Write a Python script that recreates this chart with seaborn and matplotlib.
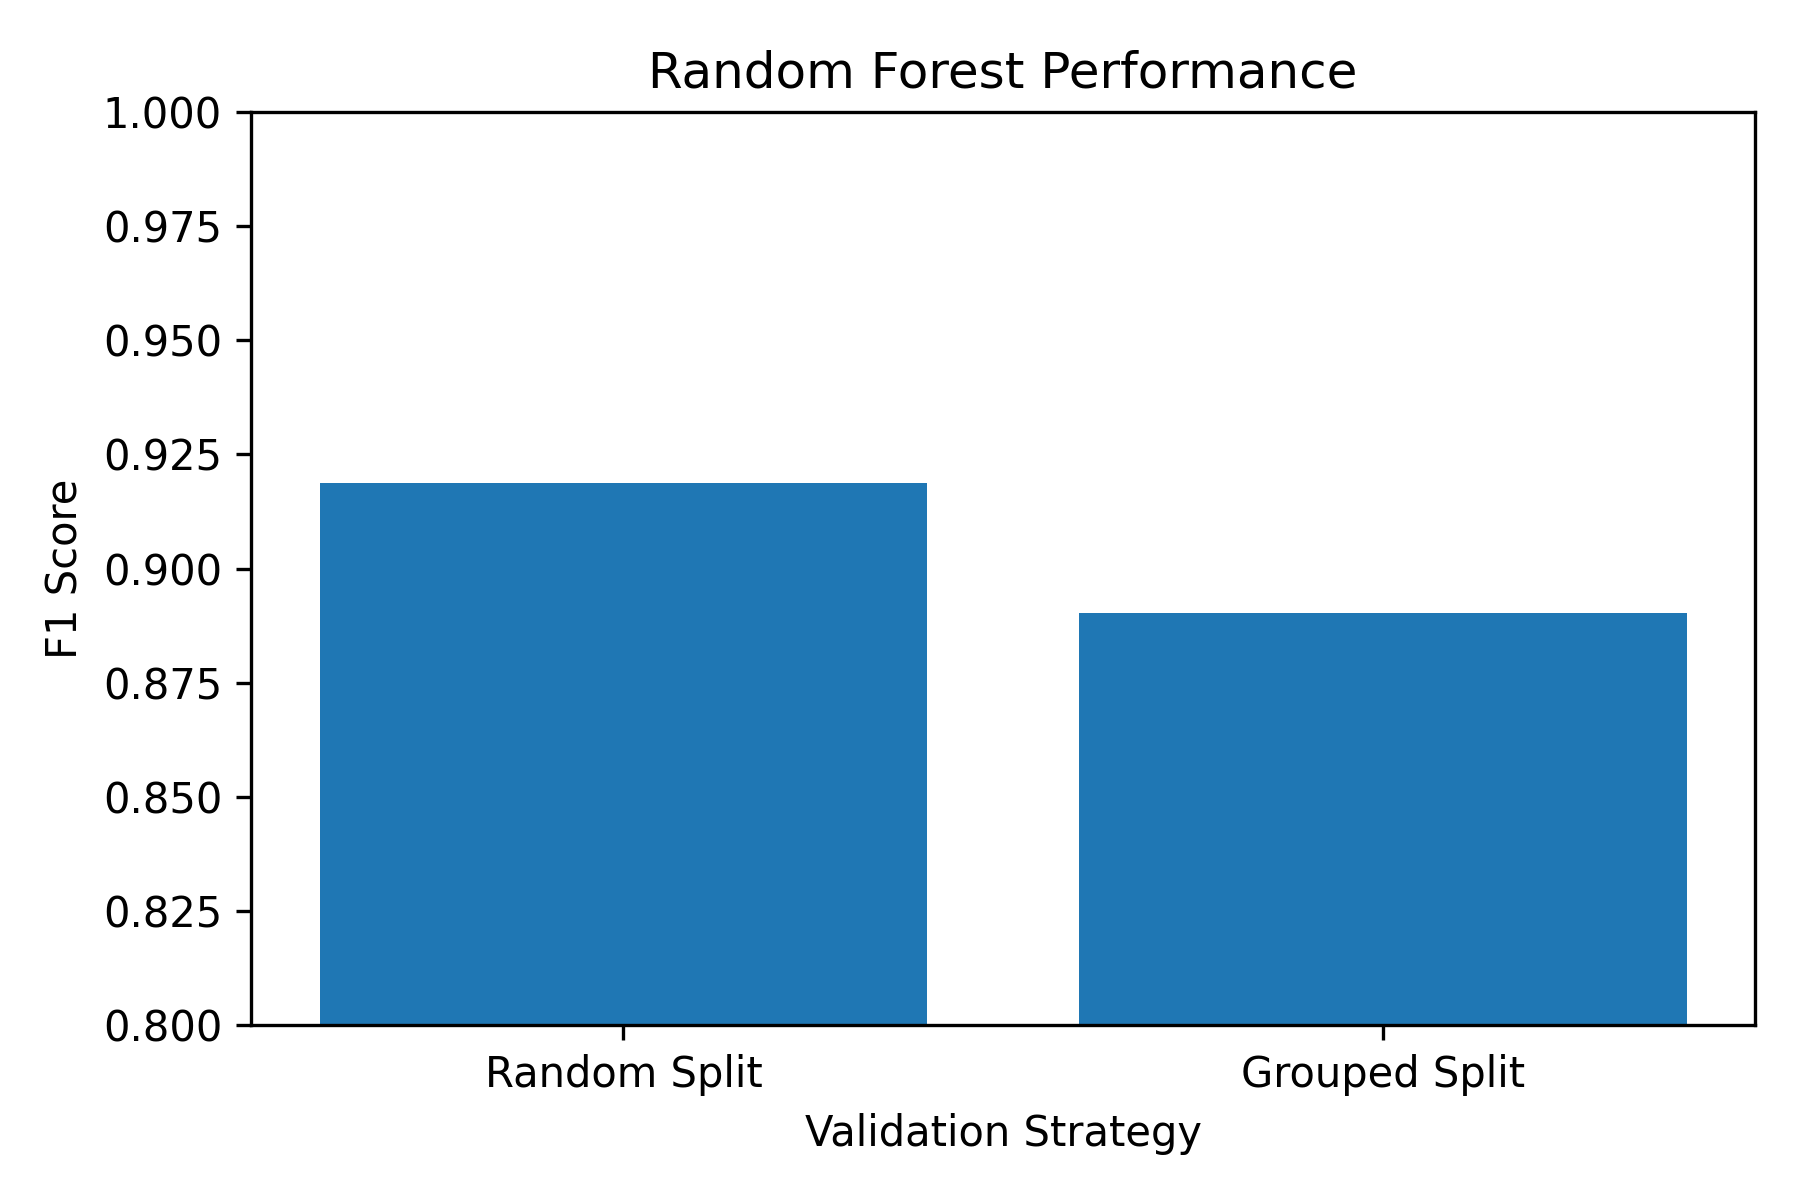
import matplotlib
matplotlib.use("Agg")
import matplotlib.pyplot as plt
import seaborn as sns
import pandas as pd

strategies = ["Random Split", "Grouped Split"]
f1_scores = [0.9187, 0.8903]

df = pd.DataFrame({"Validation Strategy": strategies, "F1 Score": f1_scores})

fig, ax = plt.subplots(figsize=(6, 4))
sns.barplot(data=df, x="Validation Strategy", y="F1 Score", color="#1f77b4",
            saturation=1, width=0.8, ax=ax)
ax.set_ylim(0.8, 1.0)
ax.set_xlim(-0.49, 1.49)
ax.set_title("Random Forest Performance")
fig.tight_layout()
fig.savefig("out.png", dpi=300)
